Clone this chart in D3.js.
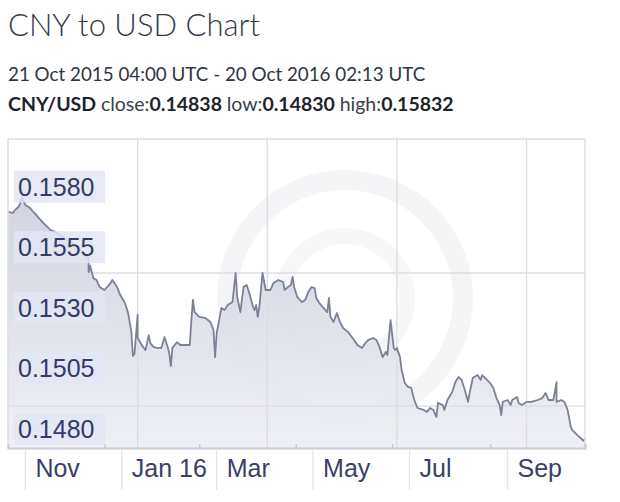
<!DOCTYPE html>
<html><head><meta charset="utf-8">
<script src="https://cdn.jsdelivr.net/npm/d3@7"></script>
<style>body{margin:0;background:#fff;} svg{display:block}</style>
</head><body>
<svg id="chart" width="620" height="502"></svg>
<script>
const title = "CNY to USD Chart";
const subtitle = "21 Oct 2015 04:00 UTC - 20 Oct 2016 02:13 UTC";
const pair = "CNY/USD";
const statLabels = ["close:", "low:", "high:"];
const statValues = ["0.14838", "0.14830", "0.15832"];

const dates = ["2015-10-21","2015-10-24","2015-10-25","2015-10-28","2015-10-30","2015-11-01","2015-11-04","2015-11-06","2015-11-08","2015-11-10",
"2015-11-13","2015-11-17","2015-11-20","2015-11-23","2015-11-27","2015-11-30","2015-12-04","2015-12-07","2015-12-09","2015-12-11",
"2015-12-11","2015-12-12","2015-12-14","2015-12-16","2015-12-18","2015-12-21","2015-12-25","2015-12-26","2015-12-29","2015-12-31",
"2016-01-03","2016-01-05","2016-01-07","2016-01-08","2016-01-09","2016-01-11","2016-01-11","2016-01-14","2016-01-16","2016-01-18",
"2016-01-19","2016-01-21","2016-01-23","2016-01-26","2016-01-28","2016-01-30","2016-01-31","2016-02-01","2016-02-02","2016-02-05",
"2016-02-07","2016-02-13","2016-02-14","2016-02-15","2016-02-16","2016-02-19","2016-02-23","2016-02-26","2016-02-28","2016-02-29",
"2016-03-01","2016-03-02","2016-03-04","2016-03-06","2016-03-08","2016-03-11","2016-03-13","2016-03-14","2016-03-16","2016-03-18",
"2016-03-20","2016-03-22","2016-03-24","2016-03-25","2016-03-26","2016-03-27","2016-03-28","2016-03-30","2016-04-01","2016-04-04",
"2016-04-06","2016-04-09","2016-04-12","2016-04-13","2016-04-15","2016-04-17","2016-04-18","2016-04-19","2016-04-21","2016-04-24",
"2016-04-26","2016-04-28","2016-04-30","2016-05-02","2016-05-03","2016-05-05","2016-05-07","2016-05-10","2016-05-11","2016-05-12",
"2016-05-14","2016-05-16","2016-05-18","2016-05-20","2016-05-23","2016-05-26","2016-05-29","2016-06-01","2016-06-03","2016-06-05",
"2016-06-08","2016-06-10","2016-06-12","2016-06-14","2016-06-16","2016-06-17","2016-06-19","2016-06-21","2016-06-22","2016-06-23",
"2016-06-25","2016-06-26","2016-06-28","2016-06-30","2016-07-02","2016-07-04","2016-07-06","2016-07-10","2016-07-12","2016-07-14",
"2016-07-16","2016-07-18","2016-07-19","2016-07-22","2016-07-23","2016-07-25","2016-07-28","2016-07-30","2016-08-01","2016-08-03",
"2016-08-05","2016-08-07","2016-08-08","2016-08-10","2016-08-13","2016-08-15","2016-08-16","2016-08-19","2016-08-21","2016-08-23",
"2016-08-25","2016-08-27","2016-08-28","2016-08-29","2016-09-01","2016-09-03","2016-09-04","2016-09-07","2016-09-08","2016-09-10",
"2016-09-13","2016-09-16","2016-09-20","2016-09-23","2016-09-25","2016-09-27","2016-09-30","2016-10-02","2016-10-02","2016-10-05",
"2016-10-07","2016-10-09","2016-10-11","2016-10-12","2016-10-15","2016-10-19","2016-10-20"];

const values = [0.15774,0.15770,0.15778,0.15798,0.15832,0.15803,0.15790,0.15774,0.15761,0.15745,
0.15724,0.15699,0.15691,0.15679,0.15658,0.15646,0.15629,0.15609,0.15592,0.15584,
0.15526,0.15551,0.15501,0.15493,0.15464,0.15452,0.15481,0.15493,0.15464,0.15431,
0.15398,0.15357,0.15279,0.15180,0.15188,0.15349,0.15254,0.15221,0.15204,0.15266,
0.15233,0.15217,0.15213,0.15213,0.15258,0.15217,0.15192,0.15138,0.15213,0.15237,
0.15225,0.15225,0.15328,0.15411,0.15361,0.15341,0.15336,0.15320,0.15287,0.15175,
0.15274,0.15307,0.15378,0.15369,0.15390,0.15402,0.15522,0.15423,0.15361,0.15464,
0.15473,0.15431,0.15382,0.15369,0.15390,0.15341,0.15382,0.15522,0.15452,0.15452,
0.15481,0.15493,0.15485,0.15452,0.15464,0.15473,0.15506,0.15464,0.15423,0.15402,
0.15411,0.15444,0.15464,0.15460,0.15419,0.15398,0.15382,0.15361,0.15419,0.15341,
0.15320,0.15357,0.15320,0.15295,0.15279,0.15254,0.15225,0.15213,0.15233,0.15246,
0.15254,0.15246,0.15217,0.15175,0.15196,0.15184,0.15328,0.15213,0.15204,0.15213,
0.15175,0.15122,0.15068,0.15052,0.15048,0.14998,0.14965,0.14957,0.14949,0.14965,
0.14957,0.14928,0.14986,0.14977,0.14957,0.14998,0.15031,0.15072,0.15093,0.15081,
0.15039,0.14990,0.15027,0.15089,0.15101,0.15081,0.15101,0.15081,0.15068,0.15048,
0.15006,0.14977,0.14936,0.14990,0.14998,0.14977,0.14998,0.15010,0.14986,0.14977,
0.14990,0.14990,0.14998,0.15006,0.15027,0.14998,0.14998,0.15072,0.14990,0.14998,
0.14990,0.14957,0.14887,0.14874,0.14854,0.14830,0.14838];

const yTickValues = [0.1580, 0.1555, 0.1530, 0.1505, 0.1480];
const yGridValues = [0.15522, 0.14973];
const yDomain = [0.1480, 0.16075];
const xDomain = ["2015-10-21", "2016-10-20"];
const xGridDates = ["2016-01-11", "2016-04-02", "2016-06-23", "2016-09-13"];
const monthStarts = ["2015-11-01", "2016-01-01", "2016-03-01", "2016-05-01", "2016-07-01", "2016-09-01"];
const monthLabels = ["Nov", "Jan 16", "Mar", "May", "Jul", "Sep"];
const axisTickDates = ["2015-12-21", "2016-02-19", "2016-04-20", "2016-06-20", "2016-08-21", "2016-10-20"];

const parse = d3.utcParse("%Y-%m-%d");
const data = dates.map((d, i) => ({date: parse(d), value: values[i]}));

const svg = d3.select("#chart");
const plot = {left: 8, right: 585, top: 139, bottom: 448};

const x = d3.scaleUtc().domain(xDomain.map(parse)).range([plot.left, plot.right]);
const y = d3.scaleLinear().domain(yDomain).range([plot.bottom, plot.top]);

// header
const hdr = svg.append("g").attr("font-family", "Lato, 'Open Sans', sans-serif");
hdr.append("text").attr("x", 8).attr("y", 36).attr("font-size", 31).attr("fill", "#333a48")
  .attr("font-weight", 300).text(title);
hdr.append("text").attr("x", 8).attr("y", 81).attr("font-size", 18.8).attr("fill", "#2f3542")
  .text(subtitle);
const stats = hdr.append("text").attr("x", 8).attr("y", 111).attr("font-size", 19.5).attr("fill", "#1f232b");
stats.append("tspan").attr("font-weight", "bold").text(pair + " ");
statLabels.forEach((l, i) => {
  stats.append("tspan").attr("fill", "#3a3f4a").text(l);
  stats.append("tspan").attr("font-weight", "bold").text(statValues[i] + (i < statLabels.length - 1 ? " " : ""));
});

// plot background
svg.append("rect").attr("x", plot.left).attr("y", plot.top)
  .attr("width", plot.right - plot.left).attr("height", plot.bottom - plot.top)
  .attr("fill", "#fff");

// faint watermark
const wm = svg.append("g").attr("fill", "none").attr("stroke", "#f5f5f8");
wm.append("circle").attr("cx", 345).attr("cy", 298).attr("r", 118).attr("stroke-width", 20);
wm.append("circle").attr("cx", 345).attr("cy", 298).attr("r", 62).attr("stroke-width", 16).attr("stroke", "#f7f7f9");

// gradient
const defs = svg.append("defs");
const grad = defs.append("linearGradient").attr("id", "fillGrad")
  .attr("gradientUnits", "userSpaceOnUse")
  .attr("x1", 0).attr("x2", 0).attr("y1", y(d3.max(values))).attr("y2", plot.bottom);
grad.append("stop").attr("offset", "0%").attr("stop-color", "#cdd0dc");
grad.append("stop").attr("offset", "100%").attr("stop-color", "#eceef4");

// area
const area = d3.area().x(d => x(d.date)).y0(plot.bottom).y1(d => y(d.value));
svg.append("path").datum(data).attr("d", area).attr("fill", "url(#fillGrad)").attr("opacity", 0.9);

// gridlines
const grid = svg.append("g").attr("stroke", "#dcdce2").attr("stroke-width", 1.3);
grid.selectAll(".vg").data(xGridDates.map(parse)).join("line")
  .attr("x1", d => x(d)).attr("x2", d => x(d)).attr("y1", plot.top).attr("y2", plot.bottom);
grid.selectAll(".hg").data(yGridValues).join("line")
  .attr("x1", plot.left).attr("x2", plot.right).attr("y1", d => y(d)).attr("y2", d => y(d));

// line
const line = d3.line().x(d => x(d.date)).y(d => y(d.value));
svg.append("path").datum(data).attr("d", line).attr("fill", "none")
  .attr("stroke", "#7b8196").attr("stroke-width", 1.8).attr("stroke-linejoin", "round");

// frame
svg.append("path")
  .attr("d", `M${plot.left},${plot.bottom}V${plot.top}H${plot.right}V${plot.bottom}`)
  .attr("fill", "none").attr("stroke", "#dedee3").attr("stroke-width", 1.5);

// x axis
const xAxisG = svg.append("g").attr("transform", `translate(0,${plot.bottom})`)
  .call(d3.axisBottom(x).tickValues(axisTickDates.map(parse)).tickSize(-4).tickFormat(""));
xAxisG.select(".domain").attr("stroke", "#c9cad2").attr("stroke-width", 2);
xAxisG.selectAll(".tick line").attr("stroke", "#c9cad2").attr("stroke-width", 1.5);

const sep = svg.append("g");
monthStarts.forEach((m, i) => {
  const xs = x(parse(m));
  sep.append("line").attr("x1", xs).attr("x2", xs).attr("y1", plot.bottom + 2).attr("y2", 490)
    .attr("stroke", "#e4e4e8").attr("stroke-width", 1.3);
  sep.append("text").attr("x", xs + 10).attr("y", 477)
    .attr("font-family", "'Liberation Sans', Arial, sans-serif").attr("font-size", 25)
    .attr("fill", "#3a3f68").text(monthLabels[i]);
});

// y labels
const yl = svg.append("g").attr("font-family", "'Liberation Sans', Arial, sans-serif");
yTickValues.forEach(v => {
  const cy = y(v) - 19;
  yl.append("rect").attr("x", 14).attr("y", cy - 16).attr("width", 91).attr("height", 32)
    .attr("fill", "#e3e5f3").attr("opacity", 0.85);
  yl.append("text").attr("x", 18).attr("y", cy).attr("dominant-baseline", "central")
    .attr("font-size", 25).attr("fill", "#353a66").text(d3.format(".4f")(v));
});
</script>
</body></html>
